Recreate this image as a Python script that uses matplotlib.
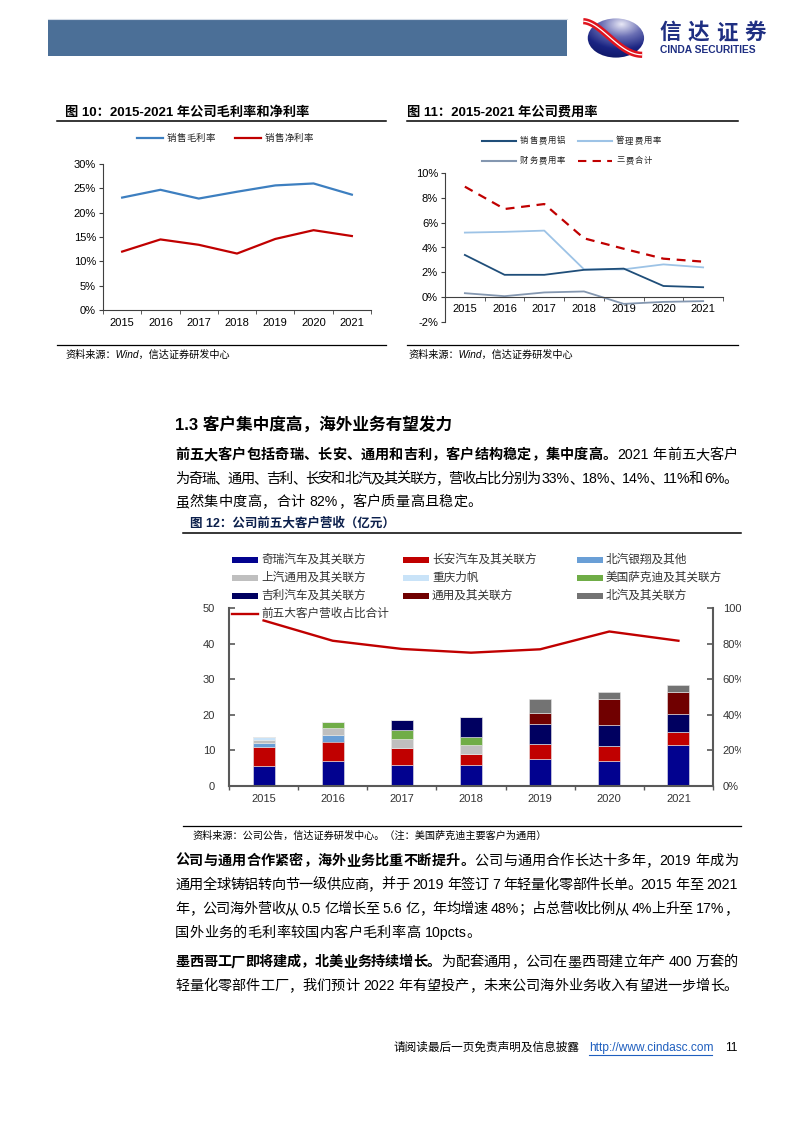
import re
import numpy as np
import matplotlib
matplotlib.use('Agg')
import matplotlib.pyplot as plt
from matplotlib.lines import Line2D
from matplotlib.patches import Rectangle, Ellipse
from matplotlib.transforms import Bbox, TransformedBbox

plt.rcParams['font.family'] = ['Liberation Sans', 'Noto Sans CJK SC']
plt.rcParams['axes.unicode_minus'] = False

W, H = 794, 1123

# ---------------- data ----------------
years = ['2015', '2016', '2017', '2018', '2019', '2020', '2021']

gross_margin = [0.231, 0.247, 0.229, 0.243, 0.256, 0.260, 0.237]
net_margin = [0.120, 0.145, 0.134, 0.116, 0.146, 0.164, 0.152]

sales_rate = [0.034, 0.018, 0.018, 0.022, 0.023, 0.009, 0.008]
admin_rate = [0.052, 0.0526, 0.0536, 0.0224, 0.0224, 0.0264, 0.024]
fin_rate = [0.0032, 0.0008, 0.0038, 0.0046, -0.0054, -0.0038, -0.0032]
total_rate = [0.089, 0.071, 0.075, 0.0474, 0.039, 0.031, 0.0286]

cust_names = ['奇瑞汽车及其关联方', '长安汽车及其关联方', '北汽银翔及其他',
              '上汽通用及其关联方', '重庆力帆', '美国萨克迪及其关联方',
              '吉利汽车及其关联方', '通用及其关联方', '北汽及其关联方']
cust_values = [
    [5.5, 7.1, 5.9, 5.9, 7.5, 7.0, 11.5],   # 奇瑞
    [5.4, 5.4, 4.7, 3.0, 4.3, 4.3, 3.7],    # 长安
    [1.2, 1.7, 0, 0, 0, 0, 0],              # 北汽银翔
    [0.9, 2.2, 2.7, 2.5, 0, 0, 0],          # 上汽通用
    [0.7, 0, 0, 0, 0, 0, 0],                # 重庆力帆
    [0, 1.6, 2.3, 2.4, 0, 0, 0],            # 美国萨克迪
    [0, 0, 3.0, 5.7, 5.5, 5.8, 4.9],        # 吉利
    [0, 0, 0, 0, 3.3, 7.4, 6.4],            # 通用
    [0, 0, 0, 0, 3.7, 1.9, 2.0],            # 北汽
]
top5_share = [0.93, 0.816, 0.77, 0.749, 0.768, 0.868, 0.816]
share_name = '前五大客户营收占比合计'

cust_colors = ['#02028F', '#C00000', '#6A9FD6', '#BFBFBF', '#C9E3F8',
               '#70AD47', '#000060', '#700000', '#737373']

# ---------------- helpers ----------------
fig = plt.figure(figsize=(W / 100, H / 100), dpi=100)
R = fig.canvas.get_renderer()


def fx(x):
    return x / W


def fy(y):
    return 1 - y / H


def ax_box(x0, y0, x1, y1):
    return [fx(x0), fy(y1), (x1 - x0) / W, (y1 - y0) / H]


def hline(x0, x1, y, color='black', lw=1.0, ls='-'):
    fig.add_artist(Line2D([fx(x0), fx(x1)], [fy(y), fy(y)], color=color, lw=lw, ls=ls))


def put_line(y, parts, size, x0=175, x1=738, justify=True):
    toks = []
    for s, bold in parts:
        for m in re.findall(r'[A-Za-z0-9.%]+|\s|.', s):
            toks.append((m, bold))
    arts, widths = [], []
    for t, b in toks:
        if t.isspace():
            arts.append(None)
            widths.append(size * 100 / 72 * 0.28)
            continue
        a = fig.text(0, fy(y), t, fontsize=size, va='center', ha='left',
                     fontweight='bold' if b else 'normal', color='black')
        arts.append(a)
        widths.append(a.get_window_extent(renderer=R).width)
    gap = (x1 - x0 - sum(widths)) / (len(toks) - 1) if justify else 0.3
    x = x0
    for a, w in zip(arts, widths):
        if a is not None:
            a.set_x(fx(x))
        x += w + gap


def spaced(x, y, txt, size, step, **kw):
    for i, ch in enumerate(txt):
        fig.text(fx(x + i * step), fy(y), ch, fontsize=size, va='center', ha='left', **kw)


# ---------------- header ----------------
fig.add_artist(Rectangle((fx(48), fy(56)), (567 - 48) / W, 37 / H, color='#4B6F97', lw=0))
hline(48, 567, 18.5, color='#d3dbe6', lw=0.8)

lax = fig.add_axes(ax_box(582, 18, 646, 58))
lax.set_xlim(0, 1)
lax.set_ylim(0, 1)
lax.axis('off')
gx, gy = np.meshgrid(np.linspace(0, 1, 80), np.linspace(0, 1, 80))
grad = np.sqrt((gx - 0.62) ** 2 + (gy - 0.85) ** 2)
im = lax.imshow(grad, extent=[0, 1, 0, 1], origin='lower',
                cmap=matplotlib.colors.LinearSegmentedColormap.from_list(
                    'lg', ['#e8e8f6', '#6a6fb4', '#1a2482', '#0c1460']),
                vmin=0, vmax=0.95, aspect='auto')
ell = Ellipse((0.53, 0.5), 0.88, 0.98, transform=lax.transData, fc='none', ec='none')
lax.add_patch(ell)
im.set_clip_path(ell)
tt = np.linspace(0, 1, 60)
sx = 0.02 + 0.92 * tt
sy = 0.5 + 0.42 * np.cos(np.pi * tt ** 0.9)
lax.plot(sx, sy, color='#E0141E', lw=4.5, solid_capstyle='butt')
lax.plot(sx, sy, color='white', lw=0.9, solid_capstyle='butt')
spaced(659, 32.5, '信达证券', 15.5, 28.5, fontweight='bold', color='#1F2F82',
       family=['Noto Sans CJK SC'])
fig.text(fx(660), fy(50), 'CINDA SECURITIES', fontsize=7.4, fontweight='bold', color='#1F2F82',
         va='center', ha='left')

# ---------------- figure 10 ----------------
fig.text(fx(65), fy(112), '图 10：2015-2021 年公司毛利率和净利率', fontsize=9.5,
         fontweight='bold', va='center', ha='left')
hline(57, 386, 120.5, lw=1.1)
hline(57, 386, 345, lw=0.9)
fig.text(fx(65), fy(355), '资料来源：Wind，信达证券研发中心', fontsize=7.3, style='italic',
         va='center', ha='left')

ax10 = fig.add_axes(ax_box(103, 164, 371, 310))
xs = np.arange(len(years))
ax10.plot(xs, gross_margin, color='#3D7FC0', lw=1.6)
ax10.plot(xs, net_margin, color='#C00000', lw=1.6)
ax10.set_xlim(-0.5, 6.5)
ax10.set_ylim(0, 0.30)
ax10.set_yticks(np.arange(0, 0.301, 0.05))
ax10.set_yticklabels([f'{round(v * 100)}%' for v in np.arange(0, 0.301, 0.05)])
ax10.set_xticks(xs)
ax10.set_xticklabels(years)
ax10.set_xticks(np.arange(-0.5, 7, 1), minor=True)
ax10.tick_params(axis='x', which='major', length=0, pad=6, labelsize=8)
ax10.tick_params(axis='x', which='minor', length=3, color='#404040')
ax10.tick_params(axis='y', length=3, color='#404040', labelsize=8, pad=2)
for s in ['top', 'right']:
    ax10.spines[s].set_visible(False)
for s in ['left', 'bottom']:
    ax10.spines[s].set_color('#404040')
    ax10.spines[s].set_linewidth(0.8)
ax10.patch.set_alpha(0)

for (lx, txt, col) in [(137, '销售毛利率', '#3D7FC0'), (235, '销售净利率', '#C00000')]:
    hline(lx, lx + 26, 138, color=col, lw=1.6)
    spaced(lx + 30, 138, txt, 6.8, 9.6, color='#222222')

# ---------------- figure 11 ----------------
fig.text(fx(407), fy(112), '图 11：2015-2021 年公司费用率', fontsize=9.5,
         fontweight='bold', va='center', ha='left')
hline(407, 738, 120.5, lw=1.1)
hline(407, 738, 345, lw=0.9)
fig.text(fx(408), fy(355), '资料来源：Wind，信达证券研发中心', fontsize=7.3, style='italic',
         va='center', ha='left')

ax11 = fig.add_axes(ax_box(445, 173, 723, 322))
ax11.plot(xs, admin_rate, color='#9DC3E6', lw=1.3)
ax11.plot(xs, sales_rate, color='#1F4E79', lw=1.3)
ax11.plot(xs, fin_rate, color='#8497B0', lw=1.3)
ax11.plot(xs, total_rate, color='#C00000', lw=1.6, ls=(0, (4, 3)))
ax11.set_xlim(-0.5, 6.5)
ax11.set_ylim(-0.02, 0.10)
yt = np.arange(-0.02, 0.1001, 0.02)
ax11.set_yticks(yt)
ax11.set_yticklabels([f'{round(v * 100)}%' for v in yt])
ax11.set_xticks(xs)
ax11.set_xticklabels(years)
ax11.set_xticks(np.arange(-0.5, 7, 1), minor=True)
ax11.spines['bottom'].set_position(('data', 0))
ax11.tick_params(axis='x', which='major', length=0, pad=5, labelsize=8)
ax11.tick_params(axis='x', which='minor', length=3, color='#404040')
ax11.tick_params(axis='y', length=3, color='#404040', labelsize=8, pad=2)
for s in ['top', 'right']:
    ax11.spines[s].set_visible(False)
for s in ['left', 'bottom']:
    ax11.spines[s].set_color('#404040')
    ax11.spines[s].set_linewidth(0.8)
ax11.patch.set_alpha(0)

leg11 = [(482, 141, '销售费用铝', '#1F4E79', '-'), (578, 141, '管理费用率', '#9DC3E6', '-'),
         (482, 161, '财务费用率', '#8497B0', '-'), (578, 161, '三费合计', '#C00000', (0, (4, 3)))]
for lx, ly, txt, col, ls in leg11:
    hline(lx, lx + 34, ly, color=col, lw=1.5, ls=ls)
    spaced(lx + 38, ly, txt, 6.0, 9.2, color='#222222')

# ---------------- text block 1 ----------------
fig.text(fx(175), fy(424), '1.3 客户集中度高，海外业务有望发力', fontsize=12,
         fontweight='bold', va='center', ha='left')
BS = 10.2
put_line(455, [('前五大客户包括奇瑞、长安、通用和吉利，客户结构稳定，集中度高。', True),
               ('2021 年前五大客户', False)], BS)
put_line(479, [('为奇瑞、通用、吉利、长安和北汽及其关联方，营收占比分别为 33%、18%、14%、11%和 6%。', False)], BS)
put_line(502, [('虽然集中度高，合计 82%，客户质量高且稳定。', False)], BS, justify=False)

# ---------------- figure 12 ----------------
fig.text(fx(190), fy(523), '图 12：公司前五大客户营收（亿元）', fontsize=9,
         fontweight='bold', va='center', ha='left', color='#0B1F4B')
hline(183, 741, 533, lw=1.1)
hline(183, 741, 826, lw=0.9)
fig.text(fx(192), fy(836), '资料来源：公司公告，信达证券研发中心。（注：美国萨克迪主要客户为通用）',
         fontsize=7.3, style='italic', va='center', ha='left')

ax12 = fig.add_axes(ax_box(229, 608, 713, 786))
bottom = np.zeros(len(years))
for vals, col in zip(cust_values, cust_colors):
    v = np.array(vals)
    ax12.bar(xs, v, bottom=bottom, width=0.32, color=col, edgecolor='#e8e8e8', linewidth=0.4)
    bottom += v
ax12.set_xlim(-0.5, 6.5)
ax12.set_ylim(0, 50)
ax12.set_yticks(np.arange(0, 51, 10))
ax12.set_xticks(xs)
ax12.set_xticklabels(years)
ax12.set_xticks(np.arange(-0.5, 7, 1), minor=True)
ax12.tick_params(axis='x', which='major', length=0, pad=6, labelsize=8, labelcolor='#333333')
ax12.tick_params(axis='x', which='minor', length=3, color='#595959', width=1)
ax12.tick_params(axis='y', direction='in', length=4, color='#595959', width=1.2,
                 labelsize=8, labelcolor='#333333', pad=10)
ax12.spines['top'].set_visible(False)
ax12.spines['right'].set_visible(False)
for s in ['left', 'bottom']:
    ax12.spines[s].set_color('#595959')
    ax12.spines[s].set_linewidth(1.5)

ax12r = ax12.twinx()
ax12r.plot(xs, top5_share, color='#C00000', lw=1.7)
ax12r.set_ylim(0, 1)
rt = np.arange(0, 1.01, 0.2)
ax12r.set_yticks(rt)
ax12r.set_yticklabels([f'{round(v * 100)}%' for v in rt])
ax12r.tick_params(axis='y', direction='in', length=4, color='#595959', width=1.2,
                  labelsize=8, labelcolor='#333333', pad=7)
for s in ['top', 'left', 'bottom']:
    ax12r.spines[s].set_visible(False)
ax12r.spines['right'].set_color('#595959')
ax12r.spines['right'].set_linewidth(1.5)
clip = TransformedBbox(Bbox.from_extents(0, 0, fx(741), 1), fig.transFigure)
for lab in ax12r.get_yticklabels():
    lab.set_clip_on(True)
    lab.set_clip_box(clip)

col_x = [232, 403, 577]
row_y = [560, 578, 596]
for i, (name, col) in enumerate(zip(cust_names, cust_colors)):
    cx = col_x[i % 3]
    ry = row_y[i // 3]
    fig.add_artist(Rectangle((fx(cx), fy(ry + 3)), 26 / W, 6.5 / H, color=col, lw=0))
    fig.text(fx(cx + 29), fy(ry), name, fontsize=8.4, va='center', ha='left', color='#333333')
hline(232, 258, 614, color='#C00000', lw=1.7)
fig.text(fx(261), fy(614), share_name, fontsize=8.4, va='center', ha='left', color='#333333')

# ---------------- text block 2 ----------------
put_line(861, [('公司与通用合作紧密，海外业务比重不断提升。', True),
               ('公司与通用合作长达十多年，2019 年成为', False)], BS)
put_line(885, [('通用全球铸铝转向节一级供应商，并于 2019 年签订 7 年轻量化零部件长单。2015 年至 2021', False)], BS)
put_line(909, [('年，公司海外营收从 0.5 亿增长至 5.6 亿，年均增速 48%；占总营收比例从 4%上升至 17%，', False)], BS)
put_line(933, [('国外业务的毛利率较国内客户毛利率高 10pcts。', False)], BS, justify=False)

put_line(962, [('墨西哥工厂即将建成，北美业务持续增长。', True),
               ('为配套通用，公司在墨西哥建立年产 400 万套的', False)], BS)
put_line(986, [('轻量化零部件工厂，我们预计 2022 年有望投产，未来公司海外业务收入有望进一步增长。', False)], BS)

# ---------------- footer ----------------
fig.text(fx(393), fy(1048), '请阅读最后一页免责声明及信息披露', fontsize=8.4, va='center', ha='left')
fig.text(fx(589), fy(1048), 'http://www.cindasc.com', fontsize=8.6, va='center', ha='left', color='#1F5FBF')
hline(589, 712, 1054.5, color='#1F5FBF', lw=0.8)
fig.text(fx(725), fy(1048), '11', fontsize=8.6, va='center', ha='left')

fig.savefig('out.png', dpi=100)
